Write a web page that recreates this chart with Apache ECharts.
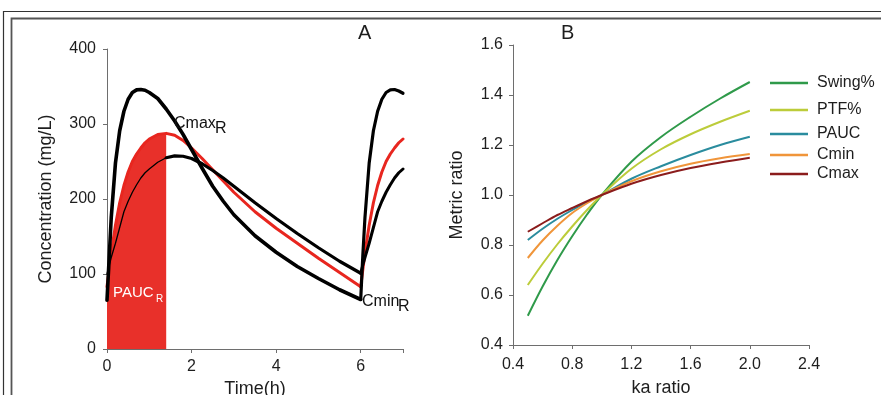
<!DOCTYPE html>
<html>
<head>
<meta charset="utf-8">
<script src="https://cdn.jsdelivr.net/npm/echarts@6/dist/echarts.min.js"></script>
<style>
html,body{margin:0;padding:0;background:#fff;}
#c{width:881px;height:395px;}
</style>
</head>
<body>
<div id="c"></div>
<script>
// ---------- Panel A data ----------
const timeH = [0,0.1,0.2,0.3,0.4,0.5,0.6,0.7,0.8,0.9,1.0,1.2,1.4,1.6,1.8,2.0,2.25,2.5,2.75,3.0,3.5,4.0,4.5,5.0,5.5,6.0,6.05,6.1,6.2,6.3,6.4,6.5,6.6,6.7,6.8,6.9,7.0];
const concFast = [65,175,248,291,317,333,342,345.5,346,345,342,334,320,304,286,266,241,217,197,179,151,129,110,94,79,66,125,175,248,291,317,333,342,345.5,346,344,341];
const concRef  = [83,128,165,195,218,236,250,260,268,275,280,286,287.5,285,278,268,254,239,224,209,183,161,141,121,102,83,106,128,165,195,218,236,250,260,268,275,280];
const concSlow = [100,122,141,162,183,197,209,219,228,235,240,249,255,257.5,257,254,247,238,228,217,195,174,154,135,117,101,112,122,141,162,183,197,209,219,228,235,240];
const pAucEndH = 1.4;
const doseTimeH = 6;
const timeTicks = [0,2,4,6];

// ---------- Panel B data ----------
const kaRatio = [0.5,0.6,0.7,0.8,0.9,1.0,1.2,1.4,1.6,1.8,2.0];
const swingRatio = [0.517,0.634,0.740,0.835,0.922,1.0,1.133,1.232,1.313,1.386,1.452];
const ptfRatio   = [0.64,0.725,0.803,0.874,0.94,1.0,1.105,1.183,1.243,1.293,1.337];
const paucRatio  = [0.82,0.865,0.905,0.94,0.972,1.0,1.065,1.115,1.16,1.2,1.233];
const cminRatio  = [0.748,0.818,0.877,0.928,0.967,1.0,1.055,1.095,1.125,1.147,1.164];
const cmaxRatio  = [0.853,0.887,0.92,0.948,0.975,1.0,1.045,1.08,1.108,1.13,1.149];
const metricNames = ['Swing%','PTF%','PAUC','Cmin','Cmax'];

// ---------- helpers ----------
function zip(xs, ys, keep){
  const out=[];
  for(let i=0;i<xs.length;i++){ if(!keep || keep(xs[i])) out.push([xs[i], ys[i]]); }
  return out;
}
const first = t => t <= doseTimeH;
const second = t => t >= doseTimeH;

const FONT = 'Liberation Sans, Arial, sans-serif';
const axisGray = '#6e6e6e';
const txt = '#1e1e1e';

function lineA(data, color, width, z){
  return {type:'line', xAxisIndex:0, yAxisIndex:0, data, showSymbol:false, symbol:'none',
    silent:true, z:z||3, lineStyle:{color, width, cap:'round', join:'round'}};
}

const metricSeries = [swingRatio, ptfRatio, paucRatio, cminRatio, cmaxRatio];
const metricColors = ['#2f9a4a','#bccc3a','#2a8c9e','#f0953a','#8b1c1c'];
const legendCenters = [84,111,135,156,175];

const chart = echarts.init(document.getElementById('c'), null, {renderer:'canvas'});

const option = {
  animation:false,
  backgroundColor:'#fff',
  grid:[
    {left:107, top:49, width:296, height:300, outerBoundsMode:'none', containLabel:false},
    {left:513, top:45, width:296, height:300, outerBoundsMode:'none', containLabel:false}
  ],
  xAxis:[
    {type:'value', gridIndex:0, min:0, max:7, interval:2,
     name:'Time(h)', nameLocation:'middle', nameGap:30,
     nameTextStyle:{fontFamily:FONT, fontSize:18, color:txt},
     axisLine:{lineStyle:{color:axisGray, width:1}},
     axisTick:{show:true, length:4, lineStyle:{color:axisGray}},
     axisLabel:{fontFamily:FONT, fontSize:16, color:txt, margin:10,
       formatter: v => timeTicks.indexOf(v) >= 0 ? String(v) : ''},
     splitLine:{show:false}},
    {type:'value', gridIndex:1, min:0.4, max:2.4, interval:0.4,
     name:'ka ratio', nameLocation:'middle', nameGap:34,
     nameTextStyle:{fontFamily:FONT, fontSize:18, color:txt},
     axisLine:{lineStyle:{color:axisGray, width:1}},
     axisTick:{show:true, length:4, lineStyle:{color:axisGray}},
     axisLabel:{fontFamily:FONT, fontSize:16, color:txt, margin:12, formatter: v => v.toFixed(1)},
     splitLine:{show:false}}
  ],
  yAxis:[
    {type:'value', gridIndex:0, min:0, max:400, interval:100,
     name:'Concentration (mg/L)', nameLocation:'middle', nameGap:52, nameRotate:90,
     nameTextStyle:{fontFamily:FONT, fontSize:18, color:txt},
     axisLine:{show:true, lineStyle:{color:axisGray, width:1}},
     axisTick:{show:true, length:4, lineStyle:{color:axisGray}},
     axisLabel:{fontFamily:FONT, fontSize:16, color:txt, margin:11},
     splitLine:{show:false}},
    {type:'value', gridIndex:1, min:0.4, max:1.6, interval:0.2,
     name:'Metric ratio', nameLocation:'middle', nameGap:47, nameRotate:90,
     nameTextStyle:{fontFamily:FONT, fontSize:18, color:txt},
     axisLine:{show:true, lineStyle:{color:axisGray, width:1}},
     axisTick:{show:true, length:4, lineStyle:{color:axisGray}},
     axisLabel:{fontFamily:FONT, fontSize:16, color:txt, margin:10, formatter: v => v.toFixed(1)},
     splitLine:{show:false}}
  ],
  legend: metricNames.map((n,i)=>({
    data:[n], left:770, top:legendCenters[i]-9, padding:0, orient:'horizontal',
    icon:'rect', itemWidth:38, itemHeight:2.5, selectedMode:false,
    textStyle:{fontFamily:FONT, fontSize:16, color:txt, padding:[0,0,0,4]}
  })),
  series:[
    // PAUC_R shaded area under reference curve up to pAucEndH
    {type:'line', xAxisIndex:0, yAxisIndex:0, silent:true, z:1,
     data: zip(timeH, concRef, t => t <= pAucEndH),
     showSymbol:false, symbol:'none',
     lineStyle:{width:0}, areaStyle:{color:'#e8302a', opacity:1}},
    lineA(zip(timeH, concRef, first), '#e8261f', 3, 2),
    lineA(zip(timeH, concRef, second), '#e8261f', 3, 2),
    lineA(zip(timeH, concSlow, t => t <= pAucEndH), '#000', 1.3, 3),
    lineA(zip(timeH, concSlow, t => t >= pAucEndH && t <= doseTimeH), '#000', 3.2, 3),
    lineA(zip(timeH, concSlow, second), '#000', 3, 3),
    lineA(zip(timeH, concFast, first), '#000', 3.6, 4),
    lineA(zip(timeH, concFast, second), '#000', 3.2, 4)
  ].concat(metricNames.map((n,i)=>({
    name:n, type:'line', xAxisIndex:1, yAxisIndex:1, data: zip(kaRatio, metricSeries[i]),
    showSymbol:false, symbol:'none', smooth:0.35, silent:true,
    color: metricColors[i], lineStyle:{color:metricColors[i], width:2}
  }))),
  graphic:[
    {type:'rect', shape:{x:3.5, y:11.5, width:900, height:420}, style:{fill:'none', stroke:'#333', lineWidth:1.2}, silent:true},
    {type:'rect', shape:{x:11.5, y:18.5, width:900, height:420}, style:{fill:'none', stroke:'#555', lineWidth:1.8}, silent:true},
    {type:'text', left:358, top:23, style:{text:'A', font:'20px '+FONT, fill:txt}},
    {type:'text', left:561, top:23, style:{text:'B', font:'20px '+FONT, fill:txt}},
    {type:'text', left:174, top:116, z:10, style:{text:'Cmax', font:'16px '+FONT, fill:'#111'}},
    {type:'text', left:215, top:121, z:10, style:{text:'R', font:'16px '+FONT, fill:'#111'}},
    {type:'text', left:362, top:294, z:10, style:{text:'Cmin', font:'16px '+FONT, fill:'#111'}},
    {type:'text', left:398, top:299, z:10, style:{text:'R', font:'16px '+FONT, fill:'#111'}},
    {type:'text', left:113, top:285, z:10, style:{text:'PAUC', font:'15px '+FONT, fill:'#fff'}},
    {type:'text', left:156, top:294, z:10, style:{text:'R', font:'10px '+FONT, fill:'#fff'}}
  ]
};
chart.setOption(option);
</script>
</body>
</html>
